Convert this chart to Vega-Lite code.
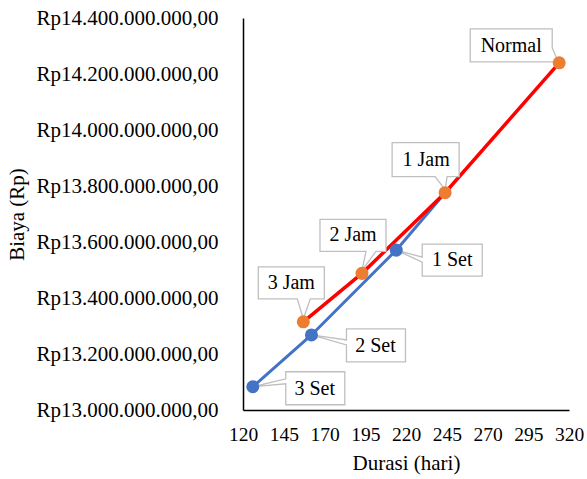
{
  "$schema": "https://vega.github.io/schema/vega-lite/v6.json",
  "width": 326,
  "height": 392,
  "autosize": {"type": "none"},
  "padding": {"left": 243, "top": 18, "right": 18, "bottom": 69},
  "background": "white",
  "config": {
    "view": {"stroke": null},
    "font": "Liberation Serif",
    "axis": {"labelFont": "Liberation Serif", "titleFont": "Liberation Serif"},
    "text": {"font": "Liberation Serif"}
  },
  "data": {
    "values": [
      {"label": "Normal", "kind": "Jam", "durasi": 314, "biaya": 14240000000},
      {"label": "1 Jam", "kind": "Jam", "durasi": 244, "biaya": 13776000000},
      {"label": "2 Jam", "kind": "Jam", "durasi": 193, "biaya": 13488000000},
      {"label": "3 Jam", "kind": "Jam", "durasi": 157, "biaya": 13315000000},
      {"label": "1 Set", "kind": "Set", "durasi": 214, "biaya": 13571000000},
      {"label": "2 Set", "kind": "Set", "durasi": 162, "biaya": 13268000000},
      {"label": "3 Set", "kind": "Set", "durasi": 126, "biaya": 13083000000}
    ]
  },
  "encoding": {
    "x": {
      "field": "durasi",
      "type": "quantitative",
      "scale": {"domain": [120, 320], "nice": false, "zero": false},
      "axis": {
        "title": "Durasi (hari)",
        "values": [120, 145, 170, 195, 220, 245, 270, 295, 320],
        "ticks": false,
        "grid": false,
        "domainColor": "#000000",
        "domainWidth": 1.5,
        "labelFont": "Liberation Serif",
        "labelFontSize": 19.5,
        "labelColor": "#000000",
        "labelPadding": 15,
        "labelFlush": false,
        "labelOverlap": false,
        "titleFont": "Liberation Serif",
        "titleFontSize": 21,
        "titleFontWeight": "normal",
        "titleColor": "#000000",
        "titlePadding": 9
      }
    },
    "y": {
      "field": "biaya",
      "type": "quantitative",
      "scale": {"domain": [13000000000, 14400000000], "nice": false, "zero": false},
      "axis": {
        "title": "Biaya (Rp)",
        "values": [13000000000, 13200000000, 13400000000, 13600000000, 13800000000, 14000000000, 14200000000, 14400000000],
        "labelExpr": "'Rp' + replace(replace(replace(format(datum.value, ',.2f'), regexp(',', 'g'), '_'), regexp('[.]', 'g'), ','), regexp('_', 'g'), '.')",
        "ticks": false,
        "grid": false,
        "domainColor": "#000000",
        "domainWidth": 1.5,
        "labelFont": "Liberation Serif",
        "labelFontSize": 21,
        "labelLimit": 400,
        "labelColor": "#000000",
        "labelPadding": 25,
        "labelFlush": false,
        "labelOverlap": false,
        "titleFont": "Liberation Serif",
        "titleFontSize": 21,
        "titleFontWeight": "normal",
        "titleColor": "#000000",
        "titlePadding": 16
      }
    }
  },
  "layer": [
    {
      "transform": [{"filter": "datum.kind === 'Set' || datum.label === '1 Jam'"}],
      "mark": {"type": "line", "color": "#4472C4", "strokeWidth": 3}
    },
    {
      "transform": [{"filter": "datum.kind === 'Jam'"}],
      "mark": {"type": "line", "color": "#FF0000", "strokeWidth": 3.5}
    },
    {
      "mark": {"type": "point", "filled": true, "fill": "#FFFFFF", "stroke": "#BFBFBF", "strokeWidth": 1.3, "opacity": 1, "size": 4},
      "encoding": {
        "shape": {
          "field": "label",
          "type": "nominal",
          "legend": null,
          "scale": {
            "domain": ["Normal", "1 Jam", "2 Jam", "3 Jam", "1 Set", "2 Set", "3 Set"],
            "range": [
              "M-89,-34H-7V-15L-1,-1L-12,-1H-89Z",
              "M-53,-50H14V-16H2L0,-3L-10,-16H-53Z",
              "M-42,-54H24V-22H14L0,-3L4,-22H-42Z",
              "M-45,-55H21V-23H7L0,-3L-6,-23H-45Z",
              "M26,-6H86V26H26V12L0,0L26,7Z",
              "M35,-6H94V27H35V10L0,0L35,5Z",
              "M33,-15H92V18H33V-3L0,0L33,-8Z"
            ]
          }
        }
      }
    },
    {
      "mark": {"type": "point", "filled": true, "opacity": 1, "size": 170, "shape": "circle"},
      "encoding": {
        "color": {
          "field": "kind",
          "type": "nominal",
          "legend": null,
          "scale": {"domain": ["Jam", "Set"], "range": ["#ED7D31", "#4472C4"]}
        }
      }
    },
    {
      "transform": [{"filter": "datum.label === 'Normal'"}],
      "mark": {"type": "text", "font": "Liberation Serif", "fontSize": 20, "color": "#000000", "dx": -48, "dy": -17, "align": "center", "baseline": "middle"},
      "encoding": {"text": {"field": "label"}}
    },
    {
      "transform": [{"filter": "datum.label === '1 Jam'"}],
      "mark": {"type": "text", "font": "Liberation Serif", "fontSize": 20, "color": "#000000", "dx": -19, "dy": -33, "align": "center", "baseline": "middle"},
      "encoding": {"text": {"field": "label"}}
    },
    {
      "transform": [{"filter": "datum.label === '2 Jam'"}],
      "mark": {"type": "text", "font": "Liberation Serif", "fontSize": 20, "color": "#000000", "dx": -9, "dy": -38, "align": "center", "baseline": "middle"},
      "encoding": {"text": {"field": "label"}}
    },
    {
      "transform": [{"filter": "datum.label === '3 Jam'"}],
      "mark": {"type": "text", "font": "Liberation Serif", "fontSize": 20, "color": "#000000", "dx": -12, "dy": -39, "align": "center", "baseline": "middle"},
      "encoding": {"text": {"field": "label"}}
    },
    {
      "transform": [{"filter": "datum.label === '1 Set'"}],
      "mark": {"type": "text", "font": "Liberation Serif", "fontSize": 20, "color": "#000000", "dx": 56, "dy": 10, "align": "center", "baseline": "middle"},
      "encoding": {"text": {"field": "label"}}
    },
    {
      "transform": [{"filter": "datum.label === '2 Set'"}],
      "mark": {"type": "text", "font": "Liberation Serif", "fontSize": 20, "color": "#000000", "dx": 64, "dy": 11, "align": "center", "baseline": "middle"},
      "encoding": {"text": {"field": "label"}}
    },
    {
      "transform": [{"filter": "datum.label === '3 Set'"}],
      "mark": {"type": "text", "font": "Liberation Serif", "fontSize": 20, "color": "#000000", "dx": 62, "dy": 2, "align": "center", "baseline": "middle"},
      "encoding": {"text": {"field": "label"}}
    }
  ]
}
